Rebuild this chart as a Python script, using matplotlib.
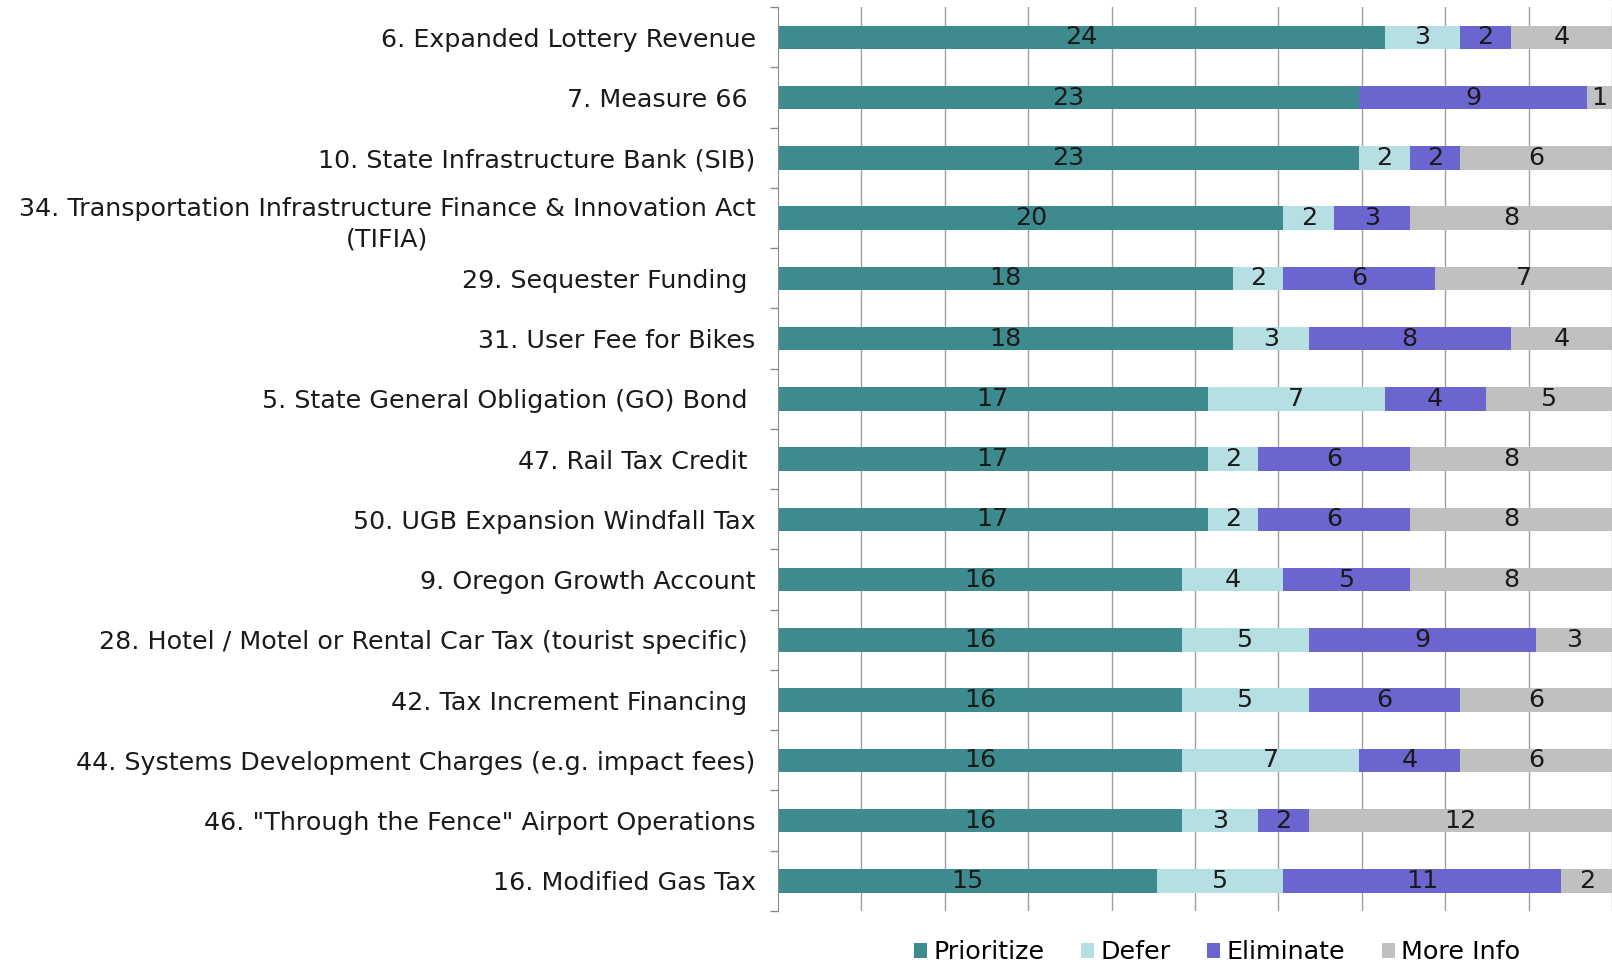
import numpy as np
import matplotlib
matplotlib.use("Agg")
import matplotlib.pyplot as plt

labels = [
    "6. Expanded Lottery Revenue",
    "7. Measure 66 ",
    "10. State Infrastructure Bank (SIB)",
    "34. Transportation Infrastructure Finance & Innovation Act\n(TIFIA)",
    "29. Sequester Funding ",
    "31. User Fee for Bikes",
    "5. State General Obligation (GO) Bond ",
    "47. Rail Tax Credit ",
    "50. UGB Expansion Windfall Tax",
    "9. Oregon Growth Account",
    "28. Hotel / Motel or Rental Car Tax (tourist specific) ",
    "42. Tax Increment Financing ",
    "44. Systems Development Charges (e.g. impact fees)",
    "46. \"Through the Fence\" Airport Operations",
    "16. Modified Gas Tax",
]
prioritize = [24, 23, 23, 20, 18, 18, 17, 17, 17, 16, 16, 16, 16, 16, 15]
defer      = [3, 0, 2, 2, 2, 3, 7, 2, 2, 4, 5, 5, 7, 3, 5]
eliminate  = [2, 9, 2, 3, 6, 8, 4, 6, 6, 5, 9, 6, 4, 2, 11]
more_info  = [4, 1, 6, 8, 7, 4, 5, 8, 8, 8, 3, 6, 6, 12, 2]

series = [
    ("Prioritize", prioritize, "#3d8b8f"),
    ("Defer", defer, "#b6dfe3"),
    ("Eliminate", eliminate, "#6b66cf"),
    ("More Info", more_info, "#c0c0c0"),
]

counts = np.array([s[1] for s in series], dtype=float)
totals = counts.sum(axis=0)
shares = counts / totals * 100

fs = 18.3
fig = plt.figure(figsize=(16.12, 9.64), dpi=100)
ax = fig.add_axes([0.4826, 0.055, 0.5174, 0.9375])

y = np.arange(len(labels))
left = np.zeros(len(labels))
for (name, vals, color), share in zip(series, shares):
    bars = ax.barh(y, share, left=left, height=0.39, color=color, label=name, zorder=2)
    ax.bar_label(bars, labels=[str(v) if v else "" for v in vals],
                 label_type="center", fontsize=fs, color="#1a1a1a")
    left += share

ax.set_xlim(0, 100)
ax.set_ylim(len(labels) - 0.5, -0.5)
ax.set_xticks(np.arange(10, 101, 10))
ax.xaxis.grid(True, color="#a0a0a0", linewidth=1.0, zorder=0)
ax.tick_params(axis="x", length=0, labelbottom=False)

ax.set_yticks(y)
ax.set_yticklabels(labels, fontsize=fs, color="#1a1a1a")
ax.set_yticks(np.arange(-0.5, len(labels), 1), minor=True)
ax.tick_params(axis="y", which="major", length=0, pad=16)
ax.tick_params(axis="y", which="minor", length=6, color="#8c8c8c", width=1)
for lab in ax.get_yticklabels():
    lab.set_multialignment("center")
    lab.set_linespacing(1.35)

for side in ["top", "right", "bottom"]:
    ax.spines[side].set_visible(False)
ax.spines["left"].set_color("#8c8c8c")

fig.legend(loc="center", bbox_to_anchor=(0.755, 0.012), ncol=4, frameon=False,
           fontsize=fs, handlelength=0.5, handleheight=0.5, handletextpad=0.25,
           columnspacing=1.45)

fig.savefig("out.png", dpi=100)
